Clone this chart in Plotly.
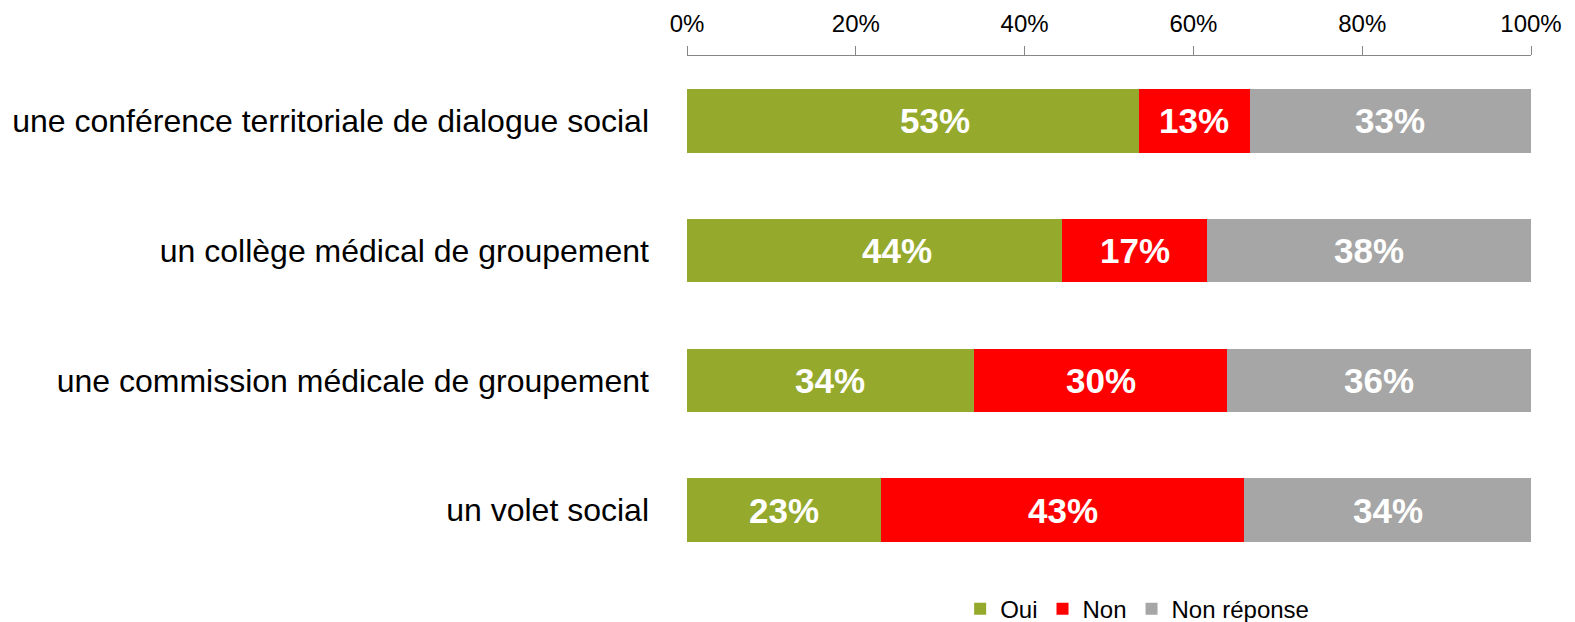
import plotly.graph_objects as go

categories = [
    "une conférence territoriale de dialogue social",
    "un collège médical de groupement",
    "une commission médicale de groupement",
    "un volet social",
]
oui = [53, 44, 34, 23]
non = [13, 17, 30, 43]
non_reponse = [33, 38, 36, 34]
tick_vals = [0, 20, 40, 60, 80, 100]
tick_text = ["0%", "20%", "40%", "60%", "80%", "100%"]

series = [
    ("Oui", oui, "#95A92D"),
    ("Non", non, "#FF0000"),
    ("Non réponse", non_reponse, "#A6A6A6"),
]
# horizontal nudge (px) of the value labels, per series and row
label_nudge = {
    "Oui": [22, 22, 0, 0],
    "Non": [0, 0, 0, 0],
    "Non réponse": [0, 0, 0, 0],
}

FONT = "Liberation Sans, Arial, sans-serif"

fig = go.Figure()
for name, vals, color in series:
    fig.add_trace(go.Bar(
        y=categories,
        x=vals,
        name=name,
        orientation="h",
        marker=dict(color=color, line=dict(width=0)),
        hoverinfo="skip",
    ))

# value labels centred in each segment of the 100% stacked bars
totals = [sum(s[1][i] for s in series) for i in range(len(categories))]
annotations = []
for i, cat in enumerate(categories):
    start = 0.0
    for name, vals, _ in series:
        share = vals[i] / totals[i] * 100
        annotations.append(dict(
            x=start + share / 2,
            y=cat,
            xref="x",
            yref="y",
            text=f"{vals[i]}%",
            showarrow=False,
            xshift=label_nudge[name][i],
            font=dict(family=FONT, size=35, color="white", weight="bold"),
        ))
        start += share

fig.update_layout(
    barmode="stack",
    barnorm="percent",
    bargap=0.51,
    width=1575,
    height=622,
    margin=dict(l=687, r=44, t=56, b=47, autoexpand=False),
    paper_bgcolor="white",
    plot_bgcolor="white",
    font=dict(family=FONT, color="#000000"),
    annotations=annotations,
    xaxis=dict(
        side="top",
        range=[0, 100],
        tickvals=tick_vals,
        ticktext=tick_text,
        ticks="outside",
        ticklen=9,
        tickwidth=1,
        tickcolor="#868686",
        showline=True,
        linecolor="#868686",
        linewidth=1,
        showgrid=False,
        zeroline=False,
        ticklabelstandoff=4,
        tickfont=dict(size=24, color="#000000"),
        fixedrange=True,
    ),
    yaxis=dict(
        autorange="reversed",
        showgrid=False,
        showline=False,
        ticks="",
        ticklabelstandoff=37,
        tickfont=dict(size=32, color="#000000"),
        fixedrange=True,
    ),
    legend=dict(
        orientation="h",
        xref="container",
        yref="paper",
        x=0.722,
        xanchor="center",
        y=-0.066,
        yanchor="middle",
        font=dict(size=24, color="#000000"),
        traceorder="normal",
        itemwidth=30,
        bgcolor="rgba(0,0,0,0)",
    ),
    showlegend=True,
)

fig.write_html("out.html")
